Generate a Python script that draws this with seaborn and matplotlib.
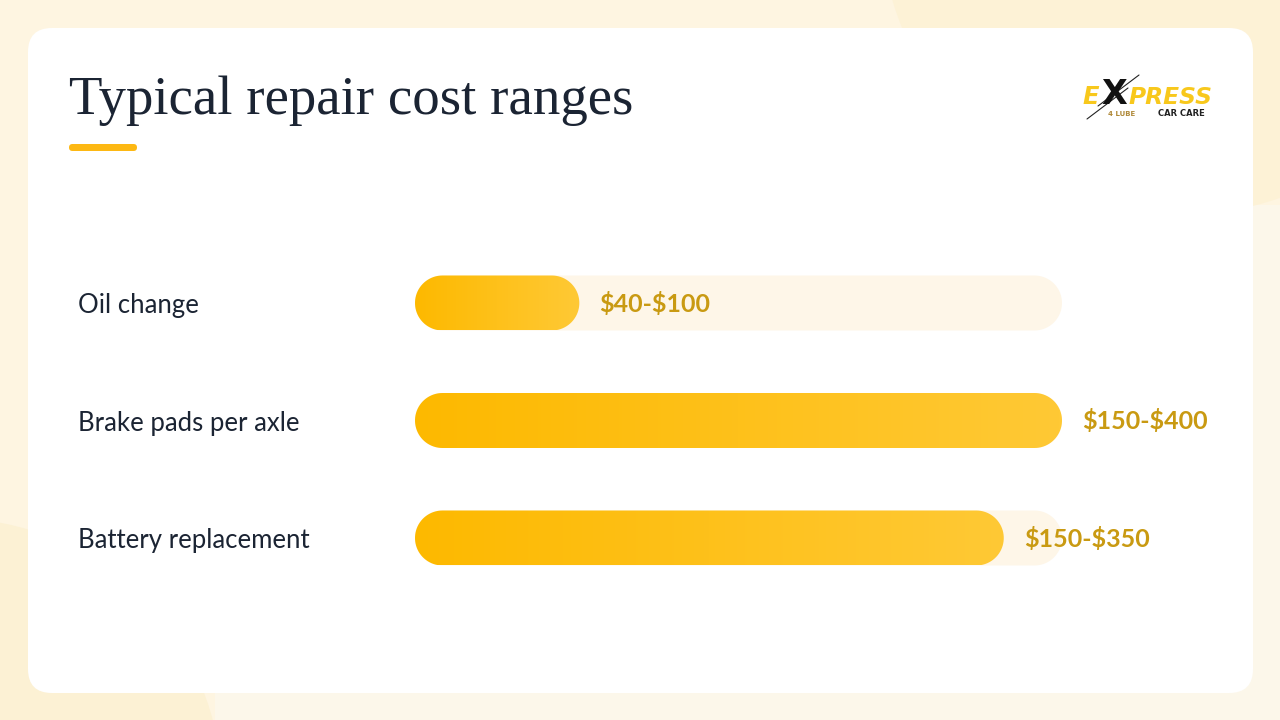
import numpy as np
import pandas as pd
import seaborn as sns
from matplotlib import pyplot as plt
from matplotlib.colors import LinearSegmentedColormap
from matplotlib.patches import Circle, FancyBboxPatch, PathPatch, Rectangle
from matplotlib.path import Path

# values, bar lengths as a share of the full track
categories = ['Oil change', 'Brake pads per axle', 'Battery replacement']
bar_percent = [25.4, 100, 91]
track_percent = [100, 100, 100]
range_labels = ['\\$40-\\$100', '\\$150-\\$400', '\\$150-\\$350']

title = 'Typical repair cost ranges'

W, H = 1280, 720
DARK = '#1B2433'
VALUE_GOLD = '#C99A12'
LOGO_YELLOW = '#F8C81C'

sns.set_theme(style='white')
plt.rcParams['font.family'] = ['Lato', 'DejaVu Sans']

fig = plt.figure(figsize=(W / 100, H / 100), dpi=100, facecolor='#FEF5E1')

# background panel in pixel coordinates
bg = fig.add_axes([0, 0, 1, 1], zorder=0)
bg.set_xlim(0, W)
bg.set_ylim(H, 0)
bg.axis('off')
bg.add_patch(Rectangle((215, 520), 1065, 200, fc='#FCF7EA', ec='none'))
bg.add_patch(Rectangle((1253, 205), 27, 515, fc='#FCF7EA', ec='none'))
bg.add_patch(Circle((1180, -85), 300, fc='#FDF2D6', ec='none'))
bg.add_patch(Circle((-50, 790), 272, fc='#FCF1D4', ec='none'))
bg.add_patch(FancyBboxPatch((28, 28), 1225, 665, boxstyle='round,pad=0,rounding_size=24',
                            fc='white', ec='none'))

bg.text(69, 101, title, fontsize=39.5, family=['Liberation Serif', 'DejaVu Serif'],
        color=DARK, va='center', ha='left')
bg.add_patch(FancyBboxPatch((69, 144), 68, 7, boxstyle='round,pad=0,rounding_size=3.5',
                            fc='#FDB813', ec='none'))

# logo
logo_font = ['DejaVu Sans']
bg.text(1082, 97, 'E', fontsize=17.5, weight='bold', style='oblique', family=logo_font,
        color=LOGO_YELLOW, ha='left', va='center')
bg.text(1114, 94, 'X', fontsize=24, weight='bold', family=logo_font, color='#111111',
        ha='center', va='center')
bg.text(1129, 97, 'PRESS', fontsize=16.8, weight='bold', style='oblique', family=logo_font,
        color=LOGO_YELLOW, ha='left', va='center')
bg.plot([1098, 1139], [106, 75], color='white', lw=2.2)
bg.plot([1098, 1139], [106, 75], color='#222222', lw=0.8)
bg.plot([1087, 1128], [119, 88], color='#222222', lw=0.8)
bg.text(1108, 114, '4 LUBE', fontsize=5, weight='bold', family=logo_font, color='#B08A3A',
        ha='left', va='center')
bg.text(1158, 114, 'CAR CARE', fontsize=6, weight='bold', family=logo_font, color='#222222',
        ha='left', va='center')

# the chart itself, axes run over the full track
ax = fig.add_axes([415 / W, 1 - 596.75 / H, 647 / W, 352.5 / H], zorder=1)
ax.patch.set_alpha(0)

df = pd.DataFrame({'category': categories, 'bar': bar_percent, 'track': track_percent})
sns.barplot(data=df, x='track', y='category', color='#FEF6E8', width=0.468, saturation=1, ax=ax)
n_track = len(ax.patches)
sns.barplot(data=df, x='bar', y='category', color='#FDB900', width=0.468, saturation=1, ax=ax)
ax.set_xlabel('')
ax.set_ylabel('')
ax.set_xticks([])
ax.set_yticks([])
sns.despine(ax=ax, left=True, bottom=True)

x_unit = 647 / 100
y_unit = 352.5 / 3
fill_cmap = LinearSegmentedColormap.from_list('fill', ['#FDB900', '#FFC935'])


def pill(x0, x1, yc, h):
    # pill outline in data units, radius is half the bar height in pixels
    r = h * y_unit / 2
    t = np.linspace(-np.pi / 2, np.pi / 2, 40)
    right_x = x1 - r / x_unit + r * np.cos(t) / x_unit
    left_x = x0 + r / x_unit - r * np.cos(t) / x_unit
    right_y = yc + r * np.sin(t) / y_unit
    left_y = yc - r * np.sin(t) / y_unit
    xy = np.r_[np.c_[right_x, right_y], np.c_[left_x, left_y]]
    return Path(np.r_[xy, xy[:1]], closed=True)


for i, p in enumerate(list(ax.patches)):
    x0, w, y0, h = p.get_x(), p.get_width(), p.get_y(), p.get_height()
    p.set_visible(False)
    outline = pill(x0, x0 + w, y0 + h / 2, h)
    if i < n_track:
        ax.add_patch(PathPatch(outline, fc='#FEF6E8', ec='none', zorder=2))
    else:
        clip = PathPatch(outline, fc='none', ec='none', transform=ax.transData)
        ax.add_patch(clip)
        im = ax.imshow(np.linspace(0, 1, 200).reshape(1, -1), cmap=fill_cmap, aspect='auto',
                       extent=(x0, x0 + w, y0 + h, y0), zorder=3)
        im.set_clip_path(clip)
ax.set_xlim(0, 100)
ax.set_ylim(2.5, -0.5)

for i, name in enumerate(categories):
    bg.text(78, 305.5 + 117.5 * i, name, fontsize=18.5, color=DARK, va='center', ha='left')
    ax.annotate(range_labels[i], (bar_percent[i], i), xytext=(20, -1), textcoords='offset pixels',
                fontsize=18, weight='bold', color=VALUE_GOLD, va='center', ha='left',
                annotation_clip=False, zorder=5)

fig.savefig('out.png', dpi=100)
